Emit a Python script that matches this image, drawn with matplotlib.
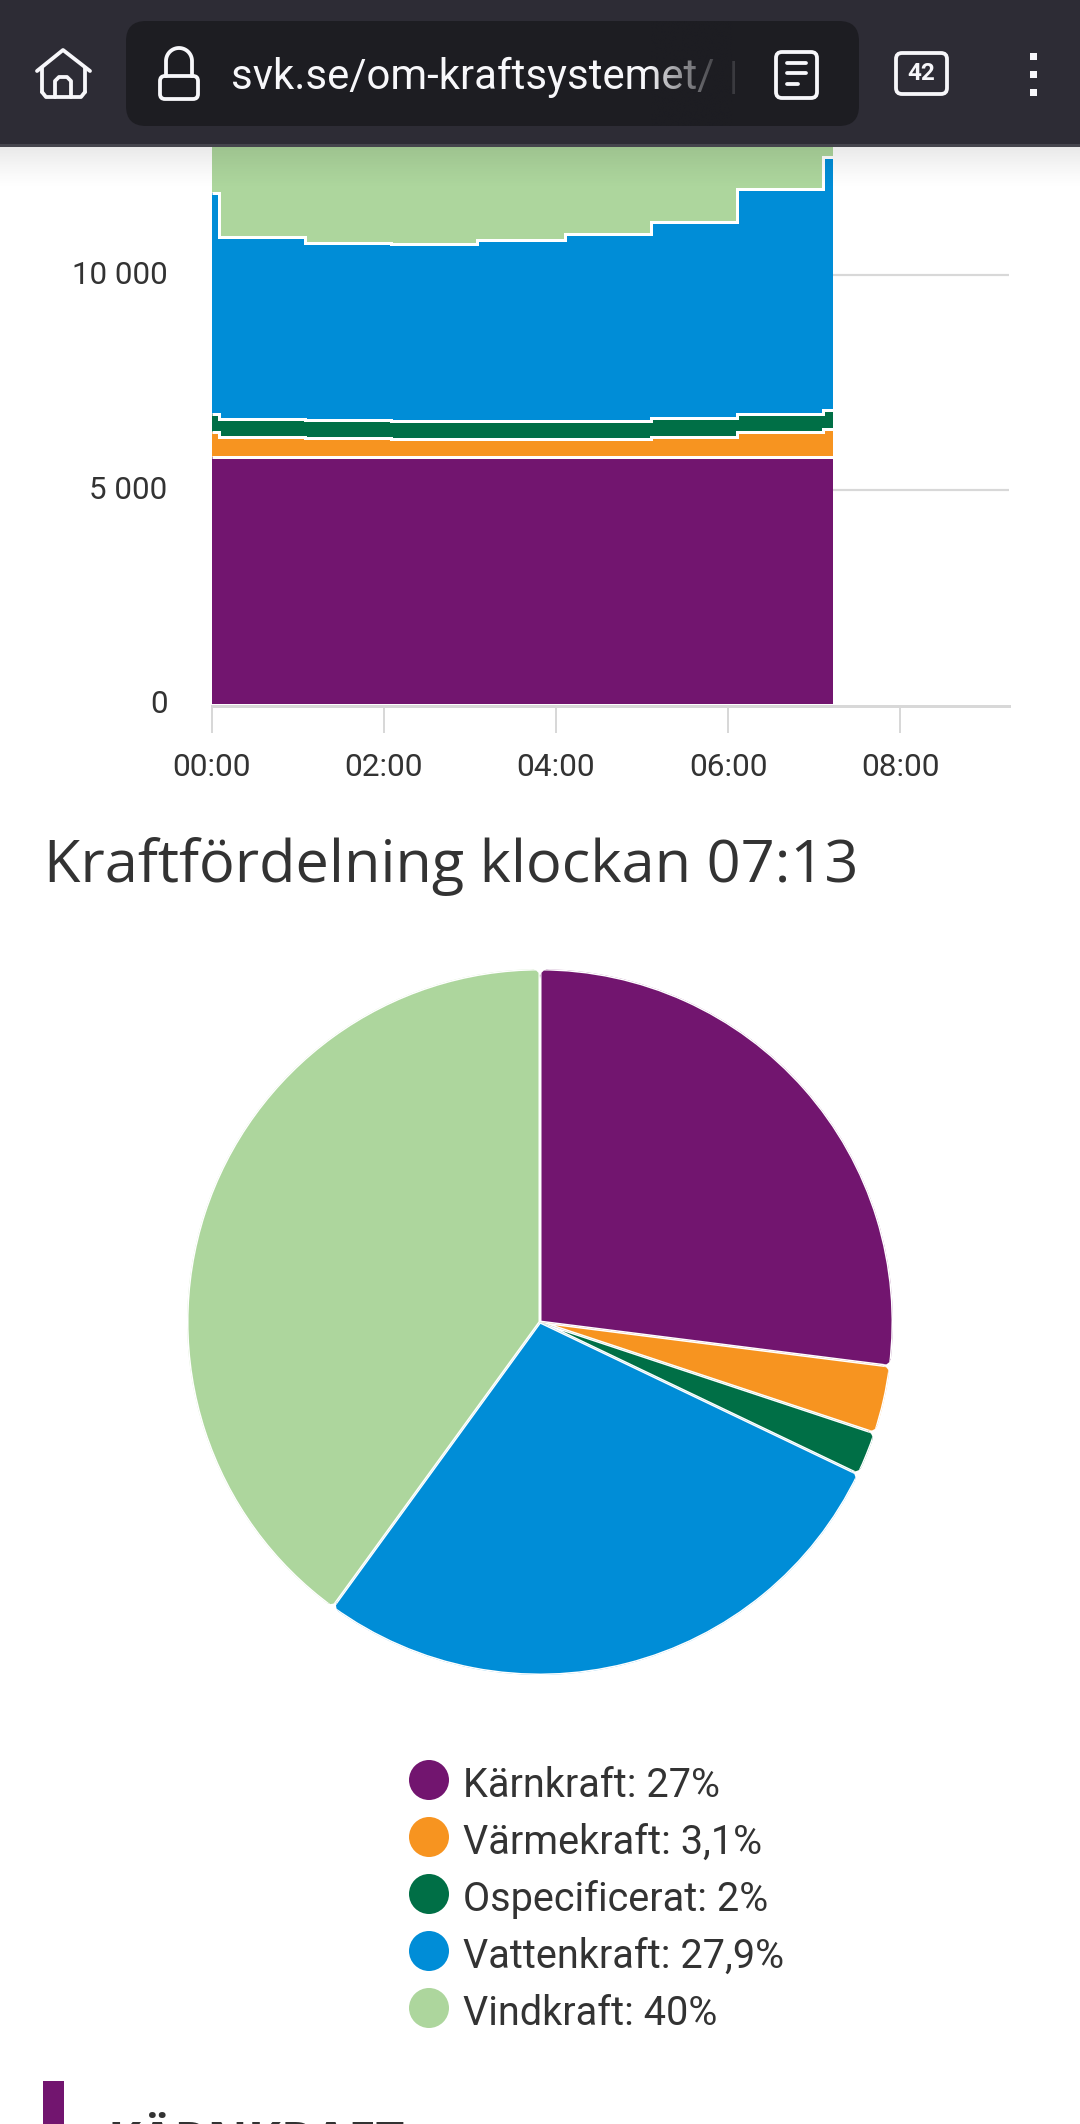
import numpy as np
import matplotlib
matplotlib.use("Agg")
import matplotlib.pyplot as plt
from matplotlib.patches import Circle, FancyBboxPatch, Rectangle
from matplotlib.path import Path
from matplotlib.transforms import ScaledTranslation

# ---------- data ----------
hours = [0, 0.08, 1.08, 2.08, 3.08, 4.1, 5.1, 6.1, 7.1, 7.22]
karnkraft = [5755, 5755, 5755, 5755, 5755, 5755, 5755, 5755, 5755, 5755]
varmekraft = [591, 475, 451, 428, 421, 421, 482, 585, 654, 654]
ospecificerat = [414, 420, 420, 427, 420, 420, 443, 433, 451, 451]
vattenkraft = [5163, 4246, 4130, 4123, 4230, 4370, 4566, 5243, 5903, 5903]
vindkraft = [7900, 7900, 8000, 8050, 8000, 7950, 8000, 8200, 8526, 8526]

x_tick_hours = [0, 2, 4, 6, 8]
x_tick_labels = ["00:00", "02:00", "04:00", "06:00", "08:00"]
y_ticks = [0, 5000, 10000]
y_tick_labels = ["0", "5 000", "10 000"]

pie_names = ["Kärnkraft", "Värmekraft", "Ospecificerat", "Vattenkraft", "Vindkraft"]
pie_values = [27, 3.1, 2, 27.9, 40]
pie_labels = ["27%", "3,1%", "2%", "27,9%", "40%"]
colors = ["#72156f", "#f79420", "#006f46", "#008dd7", "#add69d"]

title = "Kraftfördelning klockan 07:13"
next_heading = "KÄRNKRAFT"
url = "svk.se/om-kraftsystemet/"
tab_count = "42"

# ---------- figure ----------
W, H = 1080, 2124
fig = plt.figure(figsize=(W / 100, H / 100), dpi=100, facecolor="white")
px = 0.72  # points per pixel
ink = "#333333"
grid = "#d8d8d8"


def box(l, t, r, b):
    return [l / W, 1 - b / H, (r - l) / W, (b - t) / H]


# ---------- area chart ----------
ax = fig.add_axes(box(212, 147, 1008.5, 704), zorder=1)
ax.set_xlim(0, (1008.5 - 212) / 86)
ax.set_ylim(0, (704 - 147) / 0.04286)
series = [karnkraft, varmekraft, ospecificerat, vattenkraft, vindkraft]
ax.stackplot(hours, *series, colors=colors, step="post", linewidth=0, zorder=3)
cum = np.cumsum(series, axis=0)
for c in cum:
    ax.step(hours, c, where="post", color="white", lw=3 * px, zorder=4,
            solid_joinstyle="miter", solid_capstyle="butt")
for s in ["top", "right", "left"]:
    ax.spines[s].set_visible(False)
ax.spines["bottom"].set_color(grid)
ax.spines["bottom"].set_linewidth(3 * px)
ax.spines["bottom"].set_position(("outward", 1.7 * px))
ax.set_xticks(x_tick_hours, x_tick_labels)
ax.set_yticks(y_ticks, y_tick_labels)
ax.yaxis.grid(True, color=grid, lw=2.2 * px, zorder=1)
ax.get_ygridlines()[0].set_visible(False)
ax.set_axisbelow(True)
ax.tick_params(axis="x", length=27 * px, width=2 * px, color=grid, pad=20 * px,
               labelsize=22.8, labelcolor=ink)
ax.tick_params(axis="y", length=0, pad=44.5 * px, labelsize=22.6, labelcolor=ink)
for lab in ax.get_xticklabels() + ax.get_yticklabels():
    lab.set_fontfamily("Roboto")
for lab in ax.get_yticklabels():
    lab.set_transform(lab.get_transform() + ScaledTranslation(0, 2.5 / 100, fig.dpi_scale_trans))

# ---------- pie ----------
R = 353
pa = fig.add_axes(box(540 - R, 1322 - R, 540 + R, 1322 + R), zorder=1)
wedges, _ = pa.pie(pie_values, colors=colors, startangle=90, counterclock=False, radius=1,
                   wedgeprops=dict(edgecolor="white", linewidth=3 * px))
pa.set_xlim(-1, 1)
pa.set_ylim(-1, 1)
pa.set_aspect("equal")
corner = 10 / R


def pol(r, deg):
    a = np.deg2rad(deg)
    return (r * np.cos(a), r * np.sin(a))


for w in wedges:
    t1, t2 = w.theta1, w.theta2
    da = np.rad2deg(corner)
    arc = np.linspace(t1 + da, t2 - da, 200)
    v = [(0, 0), pol(1 - corner, t1), pol(1, t1), pol(1, t1 + da)]
    c = [Path.MOVETO, Path.LINETO, Path.CURVE3, Path.CURVE3]
    for d in arc[1:-1]:
        v.append(pol(1, d))
        c.append(Path.LINETO)
    v += [pol(1, t2 - da), pol(1, t2), pol(1 - corner, t2), (0, 0)]
    c += [Path.LINETO, Path.CURVE3, Path.CURVE3, Path.CLOSEPOLY]
    w.set_clip_on(True)
    w.set_clip_path(Path(v, c), transform=pa.transData)

# ---------- page overlay in pixel coordinates ----------
ov = fig.add_axes([0, 0, 1, 1], zorder=5, facecolor="none")
ov.set_xlim(0, W)
ov.set_ylim(H, 0)
ov.axis("off")

ov.text(44, 882, title, family="Open Sans", fontsize=42.8, color=ink, va="baseline")

# legend
leg_y = [1780, 1837, 1894, 1951, 2008]
for name, lab, col, y in zip(pie_names, pie_labels, colors, leg_y):
    ov.add_patch(Circle((429, y), 20, fc=col, ec="none"))
    ov.text(463, y + 17, f"{name}: {lab}", family="Roboto", fontsize=28.5, color=ink, va="baseline")

# next section heading, cut by the screen edge
ov.add_patch(Rectangle((43, 2081), 21, 50, fc=colors[0], ec="none"))
ov.text(108, 2158, next_heading, family="Open Sans", weight="bold", fontsize=35.8, color=ink,
        va="baseline")

# shadow under the browser bar
alpha = np.linspace(0.085, 0, 64) ** 1.3 * 2.2
shadow = np.zeros((64, 1, 4))
shadow[..., 3] = alpha[:, None]
ov.imshow(shadow, extent=(0, W, 190, 147), aspect="auto", zorder=1, interpolation="bilinear")

# browser bar
bar = "#2d2c35"
pill = "#1d1d22"
fg = "#f7f7fa"
ov.add_patch(Rectangle((0, 0), W, 145, fc=bar, ec="none", zorder=2))
ov.add_patch(Rectangle((0, 144), W, 3, fc="#45454d", ec="none", zorder=2))
ov.add_patch(FancyBboxPatch((126, 21), 733, 105, boxstyle="round,pad=0,rounding_size=20", fc=pill,
                            ec="none", zorder=3))
lw = 3.8 * px
kw = dict(color=fg, lw=lw, zorder=5, solid_capstyle="round", solid_joinstyle="round")
# home icon
ov.plot([37, 63, 90], [71, 50, 71], **kw)
ov.plot([42, 42], [68, 92], **kw)
ov.plot([85, 85], [68, 92], **kw)
ov.plot([42, 46, 81, 85], [92, 97, 97, 92], **kw)
ov.plot([55, 55, 59, 67, 71, 71], [97, 81, 77, 77, 81, 97], **kw)
# lock icon
ov.add_patch(FancyBboxPatch((160, 76), 38, 23, boxstyle="round,pad=0,rounding_size=5", fc="none",
                            ec=fg, lw=lw, zorder=5))
th = np.linspace(np.pi, 0, 40)
ov.plot(np.r_[166, 179 + 13 * np.cos(th), 192], np.r_[76, 61 - 13 * np.sin(th), 76], **kw)
# url
ov.text(231, 89, url, family="Roboto", fontsize=30.2, color=fg, va="baseline", zorder=4)
fade = np.zeros((1, 64, 4))
fade[..., :3] = matplotlib.colors.to_rgb(pill)
fade[..., 3] = np.linspace(0, 1, 64) ** 0.8
ov.imshow(fade, extent=(650, 733, 126, 21), aspect="auto", zorder=4.5, interpolation="bilinear")
ov.text(729, 89, "|", family="Roboto", fontsize=27, color="#3a3a3f", va="baseline", zorder=4.6)
# reader icon
ov.add_patch(FancyBboxPatch((776, 52), 41, 46, boxstyle="round,pad=0,rounding_size=6", fc="none",
                            ec=fg, lw=lw, zorder=5))
for y, x2 in zip([63, 73, 84], [806, 806, 798]):
    ov.plot([787, x2], [y, y], **kw)
# tabs
ov.add_patch(FancyBboxPatch((896, 53), 51, 41, boxstyle="round,pad=0,rounding_size=6", fc="none",
                            ec=fg, lw=lw, zorder=5))
ov.text(921.5, 73, tab_count, family="Roboto", weight="bold", fontsize=17.5, color=fg, ha="center",
        va="center", zorder=5)
# menu
for y in [53, 71, 89]:
    ov.add_patch(Rectangle((1030, y), 7, 7, fc=fg, ec="none", zorder=5))
ov.set_xlim(0, W)
ov.set_ylim(H, 0)

fig.savefig("out.png", dpi=100)
